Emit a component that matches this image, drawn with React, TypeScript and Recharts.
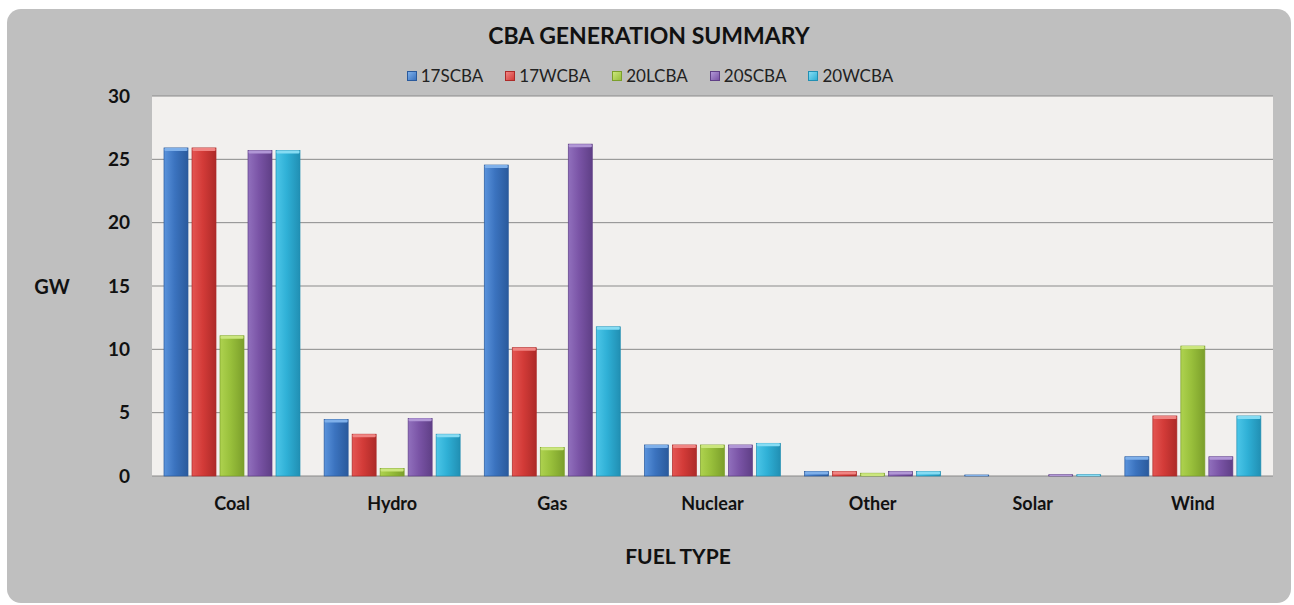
import React from 'react';
import { BarChart, Bar, XAxis, YAxis, CartesianGrid, Legend } from 'recharts';

const categories = ['Coal', 'Hydro', 'Gas', 'Nuclear', 'Other', 'Solar', 'Wind'];
const s17SCBA = [25.9, 4.47, 24.55, 2.45, 0.35, 0.08, 1.52];
const s17WCBA = [25.9, 3.3, 10.13, 2.45, 0.35, 0, 4.74];
const s20LCBA = [11.07, 0.6, 2.26, 2.45, 0.22, 0, 10.26];
const s20SCBA = [25.7, 4.55, 26.2, 2.45, 0.35, 0.1, 1.52];
const s20WCBA = [25.7, 3.3, 11.78, 2.58, 0.35, 0.1, 4.74];
const yTicks = [0, 5, 10, 15, 20, 25, 30];

const seriesNames = ['17SCBA', '17WCBA', '20LCBA', '20SCBA', '20WCBA'];
const seriesValues = [s17SCBA, s17WCBA, s20LCBA, s20SCBA, s20WCBA];
const palette = [
  { base: '#3b73bf', light: '#5a93dc', dark: '#2a5a9c', top: '#7fb0ea' },
  { base: '#d33b38', light: '#e45552', dark: '#ad2a28', top: '#f08583' },
  { base: '#98bf3b', light: '#aed24f', dark: '#7b9f2b', top: '#cbe67d' },
  { base: '#7a54a6', light: '#9170bd', dark: '#5f3f86', top: '#b197d6' },
  { base: '#2fb0d6', light: '#4cc6e8', dark: '#218fb3', top: '#86dcf3' },
];

const data = categories.map((c, i) => {
  const row: Record<string, any> = { name: c };
  seriesNames.forEach((s, j) => {
    row[s] = seriesValues[j][i];
  });
  return row;
});

const FONT = 'Lato, "Open Sans", sans-serif';

const makeShape = (j: number) => (props: any) => {
  const { x, y, width, height } = props;
  if (!height || height <= 0) return <g />;
  const p = palette[j];
  const th = Math.min(3, height);
  return (
    <g>
      <rect x={x} y={y} width={width} height={height} fill={`url(#grad${j})`} stroke={p.dark} strokeWidth={0.7} />
      <rect x={x + 0.5} y={y} width={width - 1} height={th} fill={p.top} rx={1} />
    </g>
  );
};

const LegendContent = () => (
  <div style={{ display: 'flex', justifyContent: 'center', fontFamily: FONT, fontSize: 17, color: '#222' }}>
    {seriesNames.map((s, j) => (
      <div
        key={s}
        style={{ display: 'flex', alignItems: 'center', marginRight: j < seriesNames.length - 1 ? 22 : 0 }}
      >
        <span
          style={{
            display: 'inline-block',
            width: 8,
            height: 8,
            marginRight: 4,
            background: `linear-gradient(135deg, ${palette[j].top}, ${palette[j].base})`,
            border: `1px solid ${palette[j].dark}`,
          }}
        />
        <span>{s}</span>
      </div>
    ))}
  </div>
);

export default function App() {
  return (
    <div style={{ position: 'absolute', left: 0, top: 0, width: 1294, height: 605, background: '#ffffff' }}>
      <div
        style={{
          position: 'absolute',
          left: 7,
          top: 9,
          width: 1284,
          height: 594,
          background: '#bfbfbf',
          borderRadius: 14,
        }}
      />
      <div
        style={{
          position: 'absolute',
          left: 0,
          top: 21,
          width: 1294,
          textAlign: 'center',
          fontFamily: FONT,
          fontWeight: 700,
          fontSize: 23,
          color: '#111',
          paddingLeft: 4,
          boxSizing: 'border-box',
        }}
      >
        CBA GENERATION SUMMARY
      </div>
      <div style={{ position: 'absolute', left: 0, top: 0 }}>
        <BarChart
          width={1294}
          height={605}
          data={data}
          margin={{ top: 96, right: 21, bottom: 99, left: 92 }}
          barSize={24}
          barGap={4}
        >
          <defs>
            {palette.map((p, j) => (
              <linearGradient key={j} id={`grad${j}`} x1="0" y1="0" x2="1" y2="0">
                <stop offset="0%" stopColor={p.light} />
                <stop offset="45%" stopColor={p.base} />
                <stop offset="100%" stopColor={p.dark} />
              </linearGradient>
            ))}
          </defs>
          <CartesianGrid vertical={false} stroke="#8a8a8a" strokeWidth={1} fill="#f2f0ee" />
          <XAxis
            dataKey="name"
            height={30}
            axisLine={false}
            tickLine={false}
            tickSize={0}
            tickMargin={21}
            interval={0}
            tick={{ fontFamily: FONT, fontWeight: 700, fontSize: 18, fill: '#111' }}
            label={{
              content: () => (
                <text x={678} y={564} textAnchor="middle" fontFamily={FONT} fontWeight={700} fontSize={21} fill="#111">
                  FUEL TYPE
                </text>
              ),
            }}
          />
          <YAxis
            width={60}
            domain={[0, 30]}
            ticks={yTicks}
            axisLine={false}
            tickLine={false}
            tickSize={0}
            tickMargin={22}
            tick={{ fontFamily: FONT, fontWeight: 700, fontSize: 19, fill: '#111' }}
            label={{
              content: () => (
                <text x={52} y={294} textAnchor="middle" fontFamily={FONT} fontWeight={700} fontSize={20} fill="#111">
                  GW
                </text>
              ),
            }}
          />
          <Legend
            layout="vertical"
            verticalAlign="middle"
            align="center"
            content={LegendContent}
            wrapperStyle={{ position: 'absolute', top: 65, left: 0, width: 1300 }}
          />
          {seriesNames.map((s, j) => (
            <Bar key={s} dataKey={s} fill={palette[j].base} shape={makeShape(j)} isAnimationActive={false} />
          ))}
        </BarChart>
      </div>
    </div>
  );
}
